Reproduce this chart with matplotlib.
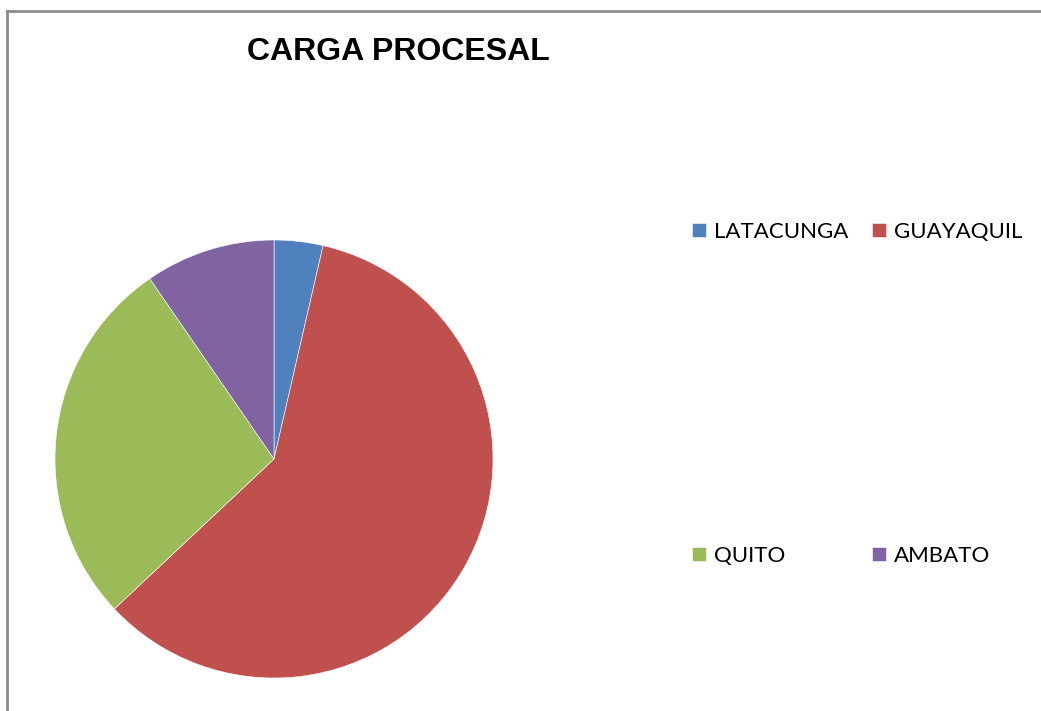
import numpy as np
import matplotlib
matplotlib.use("Agg")
from matplotlib import pyplot as plt
from matplotlib.lines import Line2D

# data
ciudades = ["LATACUNGA", "GUAYAQUIL", "QUITO", "AMBATO"]
carga = [3.6, 59.4, 27.4, 9.6]
colores = ["#4F81BD", "#C0504D", "#9BBB59", "#8064A2"]

W, H = 1041, 711
fig = plt.figure(figsize=(W / 100, H / 100), dpi=100)

# pie axes: centre (274, 459) px, radius 219 px
cx, cy, r = 274, 459, 219
ax = fig.add_axes([(cx - r) / W, (H - cy - r) / H, 2 * r / W, 2 * r / H])
wedges, _ = ax.pie(carga, colors=colores, startangle=90, counterclock=False,
                   radius=1.0, wedgeprops=dict(edgecolor="white", linewidth=0.4))
ax.set_xlim(-1, 1)
ax.set_ylim(-1, 1)
ax.set_aspect("equal")
ax.axis(False)

fig.text(398 / W, 1 - 52 / H, "CARGA PROCESAL", fontsize=23, fontweight="bold",
         family="Liberation Sans", ha="center", va="center")

# legend fills row-wise in the original: reorder for matplotlib's column fill
orden = [0, 2, 1, 3]
leg = fig.legend([wedges[i] for i in orden], [ciudades[i] for i in orden],
                 ncol=2, loc="upper left",
                 bbox_to_anchor=(692 / W, 1 - 222 / H),
                 frameon=False, prop=dict(family="Lato", size=16),
                 handlelength=0.62, handleheight=0.62, handletextpad=0.35,
                 columnspacing=1.1, labelspacing=13.66, borderpad=0, borderaxespad=0)

# frame of the original chart area
gray = "#8c8c8c"
fig.add_artist(Line2D([7 / W, 1], [1 - 11 / H, 1 - 11 / H], color=gray, lw=2,
                      transform=fig.transFigure))
fig.add_artist(Line2D([7 / W, 7 / W], [0, 1 - 11 / H], color=gray, lw=2,
                      transform=fig.transFigure))

fig.savefig("out.png", dpi=100)
